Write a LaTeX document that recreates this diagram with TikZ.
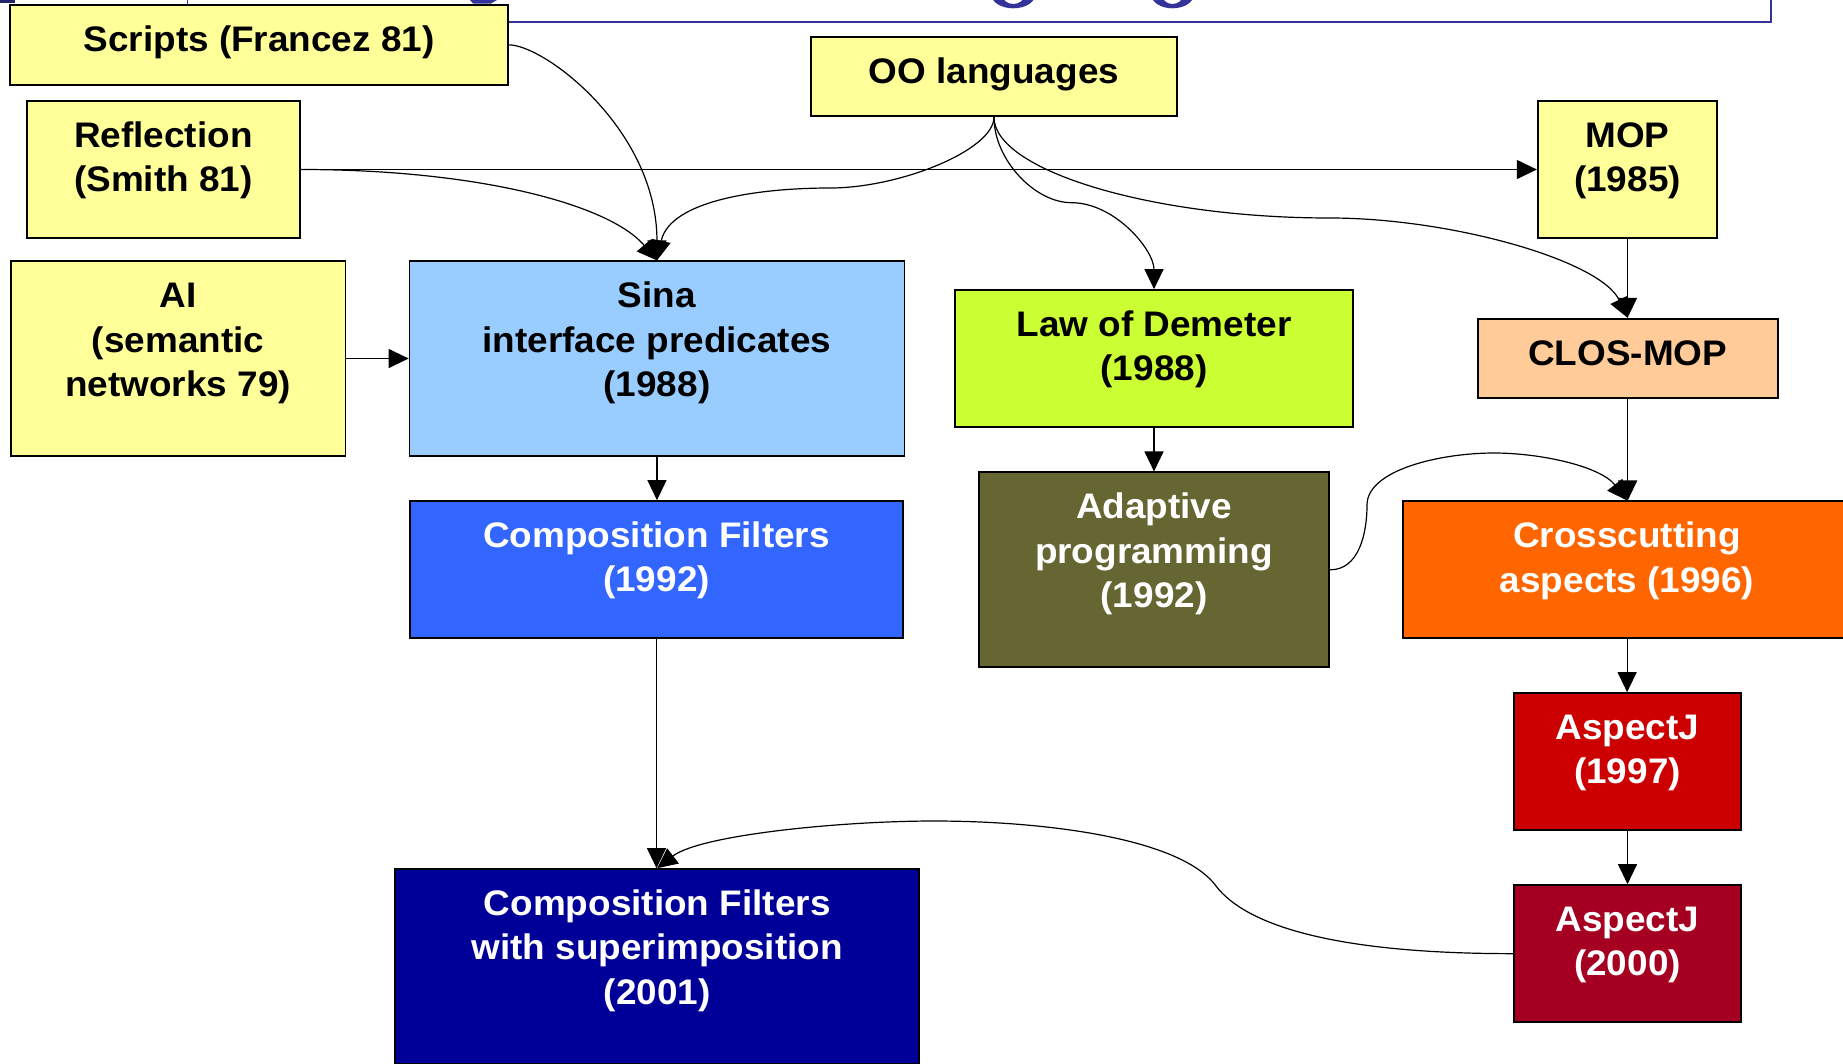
\documentclass[tikz,border=0pt]{standalone}
\usepackage{fontspec}
\newfontfamily\lblfam{Liberation Sans}[FakeStretch=1.04]
\usetikzlibrary{arrows.meta}

\definecolor{paleyellow}{HTML}{FFFF99}
\definecolor{sinablue}{HTML}{99CCFF}
\definecolor{cfblue}{HTML}{3366FF}
\definecolor{navy}{HTML}{000099}
\definecolor{lime}{HTML}{CCFF33}
\definecolor{olive}{HTML}{666633}
\definecolor{peach}{HTML}{FFCC99}
\definecolor{orangefill}{HTML}{FF6600}
\definecolor{redfill}{HTML}{CC0000}
\definecolor{wine}{HTML}{A50021}
\definecolor{titleblue}{HTML}{333399}

\newcommand\lblfont{\lblfam\bfseries\fontsize{35.5}{44.4}\selectfont}
\newcommand\boxlines[1]{\begin{tabular}{@{}c@{}}#1\end{tabular}}

% \tbox{name}{cx}{cy}{width}{height}{fill}{text colour}{lines}
\newcommand\tbox[8]{%
  \node[blk, fill=#6, minimum width=#4pt, minimum height=#5pt] (#1) at (#2,#3) {};
  \node[lbl, text=#7] (#1-t) at ([yshift=-16pt]#1.north) {\boxlines{#8}};
}

\begin{document}
\begin{tikzpicture}[x=1pt, y=-1pt,
  blk/.style={draw=black, line width=1.7pt, inner sep=0pt},
  lbl/.style={anchor=north, inner sep=0pt, font=\lblfont},
  conn/.style={line width=1.2pt, -{Triangle[length=20pt,width=19pt]}},
  framec/.style={draw=titleblue, line width=1.8pt}]

\useasboundingbox (0,0) rectangle (1843,1063);
\clip (0,0) rectangle (1843,1063);
\fill[white] (0,0) rectangle (1843,1063);

% title frame running off the top edge
\draw[framec] (187.5,-40) rectangle (1771,21.7);
\fill[titleblue!70!black] (0,0) rectangle (15,2.7);
\fill[titleblue] (470,0) -- (497,0) -- (491,3.5) -- (473,3.5) -- cycle;
\fill[titleblue, even odd rule]
  (1013.3,-5) ellipse [x radius=21.7, y radius=13.3]
  (1013.3,-5) ellipse [x radius=11, y radius=9];
\fill[titleblue, even odd rule]
  (1172.5,-5) ellipse [x radius=21, y radius=13.3]
  (1172.5,-5) ellipse [x radius=10.5, y radius=9];

% boxes
\tbox{scripts}{259.15}{44.85}{497.7}{79.7}{paleyellow}{black}{Scripts (Francez 81)}
\tbox{oo}{993.95}{76.8}{366.5}{79}{paleyellow}{black}{OO languages}
\tbox{refl}{163.4}{169.5}{273.2}{137}{paleyellow}{black}{Reflection\\(Smith 81)}
\tbox{mop}{1627.5}{169.35}{179.6}{136.7}{paleyellow}{black}{MOP\\(1985)}
\tbox{ai}{178.1}{358.5}{334.8}{194.4}{paleyellow}{black}{AI\\(semantic\\networks 79)}
\tbox{sina}{656.95}{358.65}{494.9}{194.7}{sinablue}{black}{Sina\\interface predicates\\(1988)}
\tbox{lod}{1154}{358.35}{398.6}{136.7}{lime}{black}{Law of Demeter\\(1988)}
\tbox{clos}{1627.7}{358.2}{300}{79}{peach}{black}{CLOS-MOP}
\tbox{cf}{656.5}{569.5}{492.5}{137}{cfblue}{white}{Composition Filters\\(1992)}
\tbox{ap}{1154}{569.8}{350.6}{195}{olive}{white}{Adaptive\\programming\\(1992)}
\tbox{cc}{1627.1}{569.5}{447.8}{136.4}{orangefill}{white}{Crosscutting\\aspects (1996)}
\tbox{aj97}{1627.5}{761.65}{227.6}{137.3}{redfill}{white}{AspectJ\\(1997)}
\tbox{aj00}{1627.5}{953.65}{227.6}{137.3}{wine}{white}{AspectJ\\(2000)}
\tbox{cfs}{657.25}{966.5}{524.1}{195}{navy}{white}{Composition Filters\\with superimposition\\(2001)}

% connectors
\draw[conn] (scripts.east) .. controls (545,45) and (657,130) .. (sina.north);
\draw[conn] (refl.east) .. controls (480,169.5) and (610,205) .. (sina.north);
\draw[conn] (refl.east) -- (refl.east -| mop.west);
\draw[conn] (oo.south) .. controls (994,150) and (900,188) .. (830,188)
  .. controls (760,188) and (670,200) .. (sina.north);
\draw[conn] (oo.south) .. controls (994,160) and (1035,202.7) .. (1071.4,202.7)
  .. controls (1115,202.7) and (1154,250) .. (lod.north);
\draw[conn] (oo.south) .. controls (994,170) and (1150,218) .. (1330,218)
  .. controls (1450,218) and (1600,260) .. (clos.north);
\draw[conn] (ai.east) -- (ai.east -| sina.west);
\draw[conn] (mop.south) -- (mop.south |- clos.north);
\draw[conn] (sina.south) -- (sina.south |- cf.north);
\draw[conn] (lod.south) -- (lod.south |- ap.north);
\draw[conn] (clos.south) -- (clos.south |- cc.north);
\draw[conn] (ap.east) .. controls (1358.7,569.8) and (1367,534) .. (1367,505)
  .. controls (1367,470) and (1440,453) .. (1494,453)
  .. controls (1540,453) and (1600,466) .. (cc.north);
\draw[conn] (cc.south) -- (cc.south |- aj97.north);
\draw[conn] (aj97.south) -- (aj97.south |- aj00.north);
\draw[conn] (cf.south) -- (cf.south |- cfs.north);
\draw[conn] (aj00.west) .. controls (1330,953.65) and (1245,924) .. (1216,886)
  .. controls (1180,837) and (1040,821) .. (934,821)
  .. controls (840,821) and (700,835) .. (cfs.north);
\end{tikzpicture}
\end{document}
